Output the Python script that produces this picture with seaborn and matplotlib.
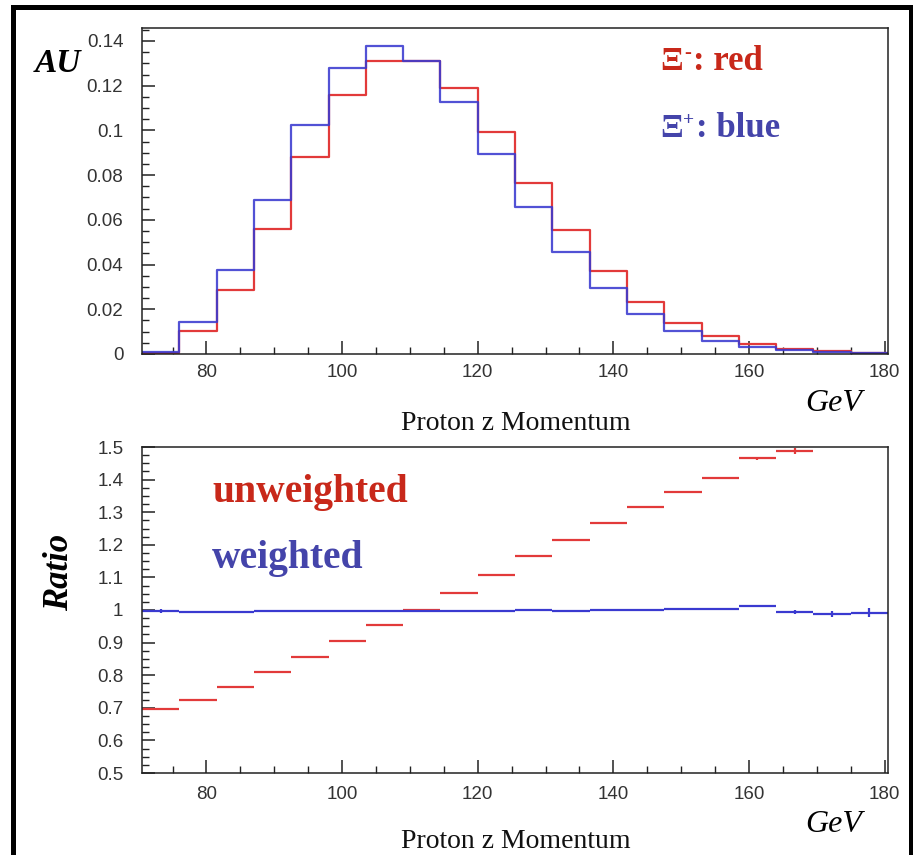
import numpy as np
import matplotlib
matplotlib.use("Agg")
import matplotlib.pyplot as plt
import seaborn as sns
from matplotlib.patches import Rectangle
from matplotlib.ticker import MultipleLocator

# ---- data -------------------------------------------------------------
bin_edges = [70.5, 76.0, 81.5, 87.0, 92.5, 98.0, 103.5, 109.0, 114.5, 120.0,
             125.5, 131.0, 136.5, 142.0, 147.5, 153.0, 158.5, 164.0, 169.5,
             175.0, 180.5]

# normalised proton p_z spectra (AU)
xi_minus = [0.0005, 0.0104, 0.0284, 0.0558, 0.0883, 0.1157, 0.1310, 0.1310,
            0.1191, 0.0992, 0.0767, 0.0553, 0.0369, 0.0234, 0.0140, 0.0079,
            0.0045, 0.0021, 0.0012, 0.0006]
xi_plus = [0.0010, 0.0143, 0.0374, 0.0690, 0.1026, 0.1281, 0.1378, 0.1310,
           0.1129, 0.0895, 0.0658, 0.0454, 0.0293, 0.0180, 0.0103, 0.0058,
           0.0031, 0.0016, 0.0009, 0.0005]

# ratio Xi- / Xi+
ratio_unweighted = [0.696, 0.725, 0.765, 0.810, 0.857, 0.904, 0.953, 1.001,
                    1.053, 1.108, 1.165, 1.214, 1.267, 1.316, 1.363, 1.406,
                    1.465, 1.488, np.nan, np.nan]
ratio_unweighted_err = [0.003, 0.002, 0.002, 0.002, 0.002, 0.002, 0.002, 0.002,
                        0.002, 0.002, 0.002, 0.002, 0.002, 0.003, 0.003, 0.003,
                        0.005, 0.010, 0.0, 0.0]
ratio_weighted = [0.996, 0.994, 0.994, 0.998, 0.998, 0.996, 0.998, 0.998,
                  0.998, 0.998, 0.999, 0.997, 1.000, 1.000, 1.002, 1.003,
                  1.011, 0.993, 0.988, 0.992]
ratio_weighted_err = [0.006, 0.002, 0.002, 0.002, 0.002, 0.002, 0.002, 0.002,
                      0.002, 0.002, 0.002, 0.002, 0.002, 0.002, 0.002, 0.002,
                      0.003, 0.006, 0.008, 0.015]

# ---- style ------------------------------------------------------------
sns.set_style("ticks")
SERIF = ["Liberation Serif", "DejaVu Serif"]
SANS = ["Liberation Sans", "DejaVu Sans"]
plt.rcParams["font.family"] = SANS

LINE_RED = "#e23a3a"
LINE_BLUE = "#3a3ad0"
TEXT_RED = "#c8281a"
TEXT_BLUE = "#4444aa"
INK = "#222222"

edges = np.array(bin_edges)
centers = 0.5 * (edges[:-1] + edges[1:])
half_w = 0.5 * np.diff(edges)

W, H = 913, 855
fig = plt.figure(figsize=(W / 100, H / 100), dpi=100)
fig.patch.set_facecolor("white")


def px(x, y):
    return x / W, 1 - y / H


ax1 = fig.add_axes([142 / W, 1 - 354 / H, 746 / W, 326 / H])
ax2 = fig.add_axes([142 / W, 1 - 773 / H, 746 / W, 326 / H])

# ---- top: spectra -----------------------------------------------------
sns.histplot(x=centers, weights=xi_minus, bins=bin_edges, element="step",
             fill=False, color=LINE_RED, linewidth=1.6, ax=ax1)
sns.histplot(x=centers, weights=xi_plus, bins=bin_edges, element="step",
             fill=False, color=LINE_BLUE, linewidth=1.6, alpha=0.88, ax=ax1)
ax1.set_ylim(0, 0.1458)
ax1.yaxis.set_minor_locator(MultipleLocator(0.005))
ax1.set_yticks([0, 0.02, 0.04, 0.06, 0.08, 0.10, 0.12, 0.14])
ax1.set_yticklabels(["0", "0.02", "0.04", "0.06", "0.08", "0.1", "0.12", "0.14"])

# ---- bottom: ratios ---------------------------------------------------
ax2.errorbar(centers, ratio_unweighted, xerr=half_w, yerr=ratio_unweighted_err,
             fmt="none", ecolor=LINE_RED, elinewidth=1.6, capsize=0)
ax2.errorbar(centers, ratio_weighted, xerr=half_w, yerr=ratio_weighted_err,
             fmt="none", ecolor=LINE_BLUE, elinewidth=1.6, capsize=0)
ax2.set_ylim(0.5, 1.5)
ax2.yaxis.set_minor_locator(MultipleLocator(0.025))
ax2.set_yticks([0.5, 0.6, 0.7, 0.8, 0.9, 1.0, 1.1, 1.2, 1.3, 1.4, 1.5])
ax2.set_yticklabels(["0.5", "0.6", "0.7", "0.8", "0.9", "1", "1.1", "1.2",
                     "1.3", "1.4", "1.5"])

for ax in (ax1, ax2):
    ax.set_xlim(70.5, 180.5)
    ax.set_xticks([80, 100, 120, 140, 160, 180])
    ax.xaxis.set_minor_locator(MultipleLocator(5))
    ax.set_xlabel("")
    ax.set_ylabel("")
    for s in ax.spines.values():
        s.set_visible(True)
        s.set_linewidth(1.1)
        s.set_color(INK)
    ax.tick_params(axis="both", which="both", direction="in", color=INK,
                   top=False, right=False, labelcolor="#333333",
                   labelsize=13.5)
    ax.tick_params(axis="both", which="major", length=9.5, width=1.1)
    ax.tick_params(axis="both", which="minor", length=4.8, width=1.0)
    ax.tick_params(axis="y", which="major", pad=13.5)
    ax.tick_params(axis="x", which="major", pad=7)
ax2.tick_params(axis="x", which="major", pad=9)

# ---- annotations ------------------------------------------------------
fig.text(*px(35, 72), "AU", family=SERIF, style="italic", weight="bold",
         fontsize=24, color="black", va="baseline", ha="left")
fig.text(*px(60, 572), "Ratio", family=SERIF, style="italic", weight="bold",
         fontsize=25, color="black", va="center", ha="center", rotation=90)

# particle labels: Xi with a small superscript charge sign
for base, sign, sign_x, sign_fs, rest_x, word, col in (
        (70, "-", 684, 15, 693, ": red", TEXT_RED),
        (137, "+", 683, 14, 696, ": blue", TEXT_BLUE)):
    fig.text(*px(660, base), "Ξ", family=SERIF, weight="bold", fontsize=24,
             color=col, va="baseline", ha="left")
    fig.text(*px(sign_x, base - 12), sign, family=SERIF, weight="bold",
             fontsize=sign_fs, color=col, va="baseline", ha="left")
    fig.text(*px(rest_x, base), word, family=SERIF, weight="bold",
             fontsize=25, color=col, va="baseline", ha="left")

fig.text(*px(212, 502), "unweighted", family=SERIF, weight="bold",
         fontsize=28.5, color=TEXT_RED, va="baseline", ha="left")
fig.text(*px(212, 568), "weighted", family=SERIF, weight="bold",
         fontsize=28.5, color=TEXT_BLUE, va="baseline", ha="left")

for base_lab, base_gev in ((430, 411), (848, 832)):
    fig.text(*px(516, base_lab), "Proton z Momentum", family=SERIF,
             fontsize=20, color="#111111", va="baseline", ha="center")
    fig.text(*px(805, base_gev), "GeV", family=SERIF, style="italic",
             fontsize=23, color="black", va="baseline", ha="left")

# page frame
fig.add_artist(Rectangle((12.5 / W, -0.05), (910.5 - 12.5) / W,
                         1.05 - 7.5 / H, transform=fig.transFigure,
                         fill=False, edgecolor="black", linewidth=3.6))

fig.savefig("out.png", dpi=100, facecolor="white")
